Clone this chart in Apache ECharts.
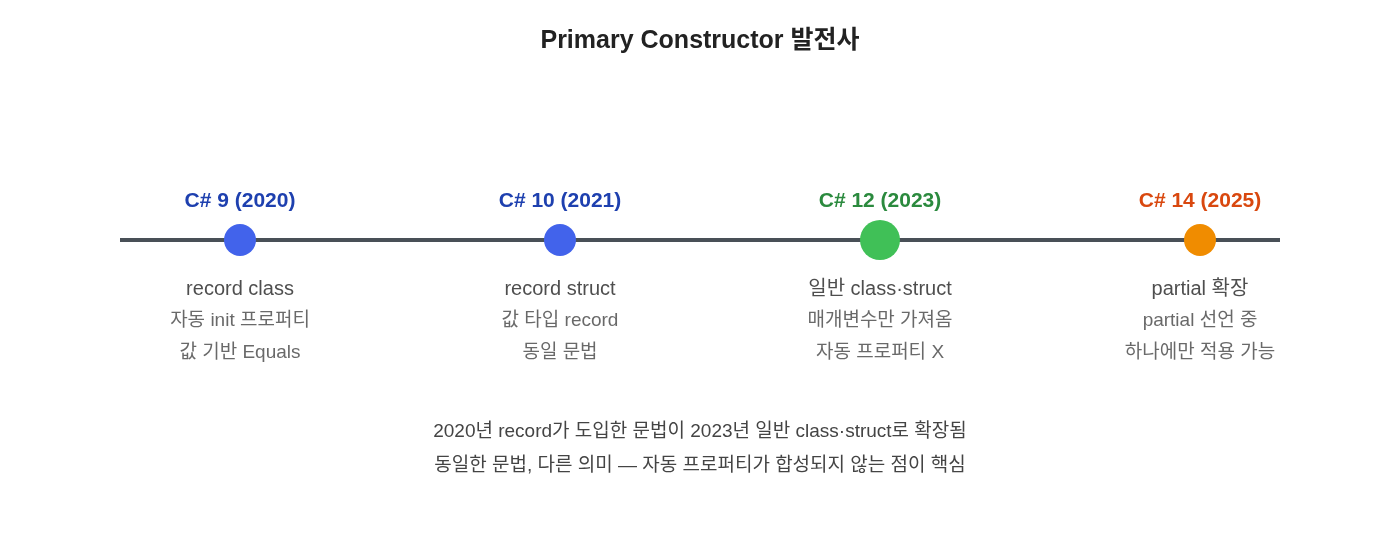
<!DOCTYPE html>
<html><head><meta charset="utf-8">
<script src="https://cdn.jsdelivr.net/npm/echarts@6/dist/echarts.min.js"></script>
<style>html,body{margin:0;padding:0;background:#fff}#c{width:1400px;height:560px}</style>
</head><body><div id="c"></div>
<script>
const versions = ['C# 9 (2020)', 'C# 10 (2021)', 'C# 12 (2023)', 'C# 14 (2025)'];
const headlines = ['record class', 'record struct', '일반 class·struct', 'partial 확장'];
const line2 = ['자동 init 프로퍼티', '값 타입 record', '매개변수만 가져옴', 'partial 선언 중'];
const line3 = ['값 기반 Equals', '동일 문법', '자동 프로퍼티 X', '하나에만 적용 가능'];
const dotColors = ['#4263eb', '#4263eb', '#40c057', '#f08c00'];
const labelColors = ['#1e40af', '#1e40af', '#2b8a3e', '#d9480f'];
const dotSizes = [32, 32, 40, 32];
const footer = ['2020년 record가 도입한 문법이 2023년 일반 class·struct로 확장됨',
  '동일한 문법, 다른 의미 — 자동 프로퍼티가 합성되지 않는 점이 핵심'];
const F = '"Liberation Sans","Noto Sans CJK KR",sans-serif';
const ch = echarts.init(document.getElementById('c'));
const idx = versions.map((v, i) => i);
ch.setOption({
  animation: false,
  title: {text: 'Primary Constructor 발전사', left: 'center', top: 24,
    textStyle: {fontFamily: F, fontSize: 25, fontWeight: 'bold', color: '#222'}},
  grid: {left: 0, right: 0, top: 0, bottom: 0},
  xAxis: {type: 'value', min: -0.75, max: 3.625, show: false},
  yAxis: {type: 'value', min: 0, max: 560, inverse: true, show: false},
  graphic: footer.map((t, i) => ({type: 'text', left: 'center', top: 422 + i * 34,
    style: {text: t, font: '19px ' + F, fill: '#444'}})),
  series: [
    {type: 'line', data: [[-0.375, 240], [3.25, 240]], symbol: 'none', silent: true,
      lineStyle: {color: '#495057', width: 4}, z: 1},
    {type: 'scatter', z: 3, silent: true,
      data: idx.map(i => ({value: [i, 240], symbolSize: dotSizes[i], itemStyle: {color: dotColors[i], opacity: 1},
        label: {show: true, position: 'top', distance: 28 - dotSizes[i] / 2, formatter: versions[i],
          color: labelColors[i], fontFamily: F, fontSize: 21, fontWeight: 'bold', opacity: 1}}))},
    {type: 'scatter', z: 2, silent: true, symbolSize: 0,
      data: idx.map(i => ({value: [i, 240], label: {show: true, position: 'bottom', distance: 33,
        formatter: '{a|' + headlines[i] + '}\n{b|' + line2[i] + '}\n{b|' + line3[i] + '}',
        rich: {a: {fontFamily: F, fontSize: 20, color: '#222', lineHeight: 32, align: 'center'},
          b: {fontFamily: F, fontSize: 19, color: '#444', lineHeight: 32, align: 'center'}}}}))}
  ]
});
</script></body></html>
